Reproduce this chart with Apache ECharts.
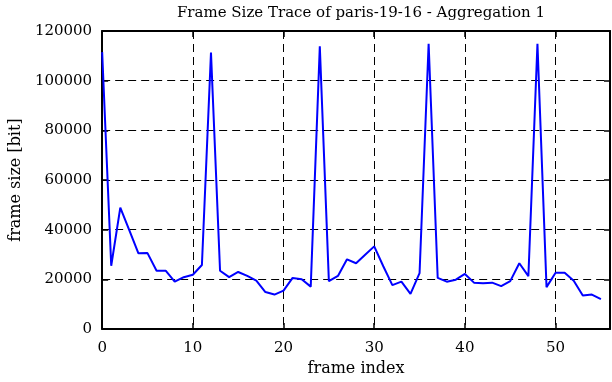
<!DOCTYPE html>
<html>
<head>
<meta charset="utf-8">
<script src="https://cdn.jsdelivr.net/npm/echarts@6/dist/echarts.min.js"></script>
<style>
html,body{margin:0;padding:0;background:#fff;}
#chart{width:612px;height:382px;}
</style>
</head>
<body>
<div id="chart"></div>
<script>
const titleText = "Frame Size Trace of paris-19-16 - Aggregation 1";
const xAxisName = "frame index";
const yAxisName = "frame size [bit]";
const xTicks = [0, 10, 20, 30, 40, 50];
const yTicks = [0, 20000, 40000, 60000, 80000, 100000, 120000];
const frameSizes = [
  111500, 25500, 48900, 39700, 30500, 30600, 23500, 23500, 19100, 20900,
  21900, 25800, 111300, 23500, 20900, 23000, 21400, 19500, 14900, 13900,
  15500, 20600, 20100, 17100, 113800, 19300, 21400, 28100, 26500, 29900,
  33300, 25300, 17700, 19100, 14200, 22500, 114900, 20600, 19100, 19900,
  22200, 18700, 18500, 18700, 17300, 19300, 26500, 21300, 114900, 16900,
  22700, 22700, 19500, 13500, 13900, 12100
];

const FONT = "DejaVu Serif";
const chart = echarts.init(document.getElementById('chart'), null, {renderer: 'canvas'});
const seriesData = frameSizes.map((v, i) => [i, v]);
const axisLineStyle = {show: true, onZero: false, lineStyle: {color: '#000', width: 2}};
const tickStyle = {show: true, inside: true, length: 6, lineStyle: {color: '#000', width: 1.5}};

chart.setOption({
  animation: false,
  backgroundColor: '#fff',
  title: {
    text: titleText,
    left: 356, top: 1, textAlign: 'center',
    textStyle: {fontFamily: FONT, fontSize: 15, fontWeight: 'normal', color: '#000'}
  },
  grid: {left: 102, right: 2, top: 31, bottom: 52, containLabel: false},
  xAxis: [{
    type: 'value', min: 0, max: 56, interval: 10, position: 'bottom',
    name: xAxisName, nameLocation: 'middle', nameGap: 26,
    nameTextStyle: {fontFamily: FONT, fontSize: 16, color: '#000'},
    axisLine: axisLineStyle, axisTick: tickStyle,
    axisLabel: {
      fontFamily: FONT, fontSize: 15, color: '#000', margin: 12,
      showMaxLabel: false,
      formatter: v => xTicks.includes(v) ? String(v) : ''
    },
    splitLine: {show: true, lineStyle: {color: '#000', width: 1, type: [8, 5]}}
  }, {
    type: 'value', min: 0, max: 56, interval: 10, position: 'top',
    axisLine: axisLineStyle, axisTick: tickStyle,
    axisLabel: {show: false}, splitLine: {show: false}
  }],
  yAxis: [{
    type: 'value', min: 0, max: 120000, interval: 20000, position: 'left',
    name: yAxisName, nameLocation: 'middle', nameGap: 72,
    nameTextStyle: {fontFamily: FONT, fontSize: 16, color: '#000'},
    axisLine: axisLineStyle, axisTick: tickStyle,
    axisLabel: {
      fontFamily: FONT, fontSize: 15, color: '#000', margin: 10,
      formatter: v => yTicks.includes(v) ? String(v) : ''
    },
    splitLine: {show: true, lineStyle: {color: '#000', width: 1, type: [8, 5]}}
  }, {
    type: 'value', min: 0, max: 120000, interval: 20000, position: 'right',
    axisLine: axisLineStyle, axisTick: tickStyle,
    axisLabel: {show: false}, splitLine: {show: false}
  }],
  series: [{
    type: 'line',
    data: seriesData,
    xAxisIndex: 0, yAxisIndex: 0,
    showSymbol: false, symbol: 'none',
    lineStyle: {color: '#0000ff', width: 2},
    itemStyle: {color: '#0000ff'}
  }]
});
</script>
</body>
</html>
